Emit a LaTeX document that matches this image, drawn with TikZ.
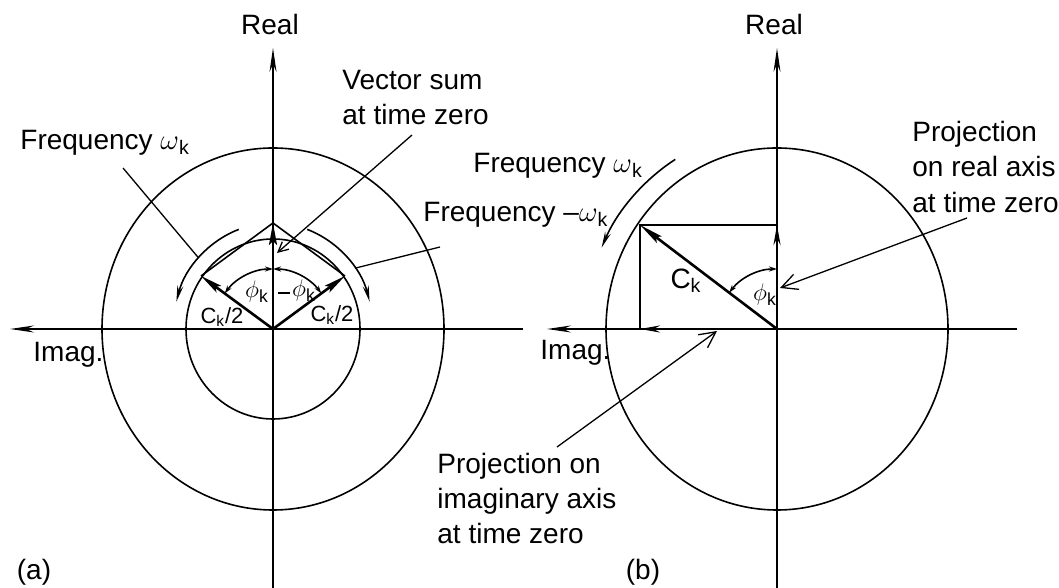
\documentclass[tikz,border=0pt]{standalone}
\usepackage{fontspec}
\setmainfont{Liberation Sans}
\usetikzlibrary{arrows.meta}
\begin{document}
\begin{tikzpicture}[x=0.5pt,y=0.5pt,
  axis/.style={line width=0.75pt},
  circ/.style={line width=0.8pt},
  vec/.style={line width=1.3pt},
  thinl/.style={line width=0.8pt},
  leader/.style={line width=0.65pt},
  lbl/.style={font=\fontsize{14}{17.5}\selectfont, inner sep=0pt},
  sml/.style={font=\fontsize{11}{13}\selectfont, inner sep=0pt},
  phil/.style={font=\fontsize{12.5}{14}\selectfont, inner sep=0pt},
  axtip/.style={-{Stealth[length=12pt,width=3.5pt]}},
  vtip/.style={-{Stealth[length=11pt,width=4pt,inset=2pt]}},
  ptip/.style={{Stealth[length=4pt,width=2.5pt]}-{Stealth[length=4pt,width=2.5pt]}},
  ftip/.style={-{Stealth[length=8pt,width=3pt]}},
  btip/.style={-{Straight Barb[length=8pt,width=8pt]}}
]
\useasboundingbox (0,0) rectangle (1059,588);
% ---------- centres and axes
\coordinate (O1) at (273,259);
\coordinate (O2) at (777,259);
\coordinate (a1t) at (273,540); \coordinate (a1b) at (273,0);
\coordinate (a1l) at (10,259);  \coordinate (a1r) at (523,259);
\coordinate (a2t) at (777,540); \coordinate (a2b) at (777,0);
\coordinate (a2l) at (547,259); \coordinate (a2r) at (1017,259);
\draw[axis,axtip] (a1b) -- (a1t);
\draw[axis,axtip] (a1r) -- (a1l);
\draw[axis,axtip] (a2b) -- (a2t);
\draw[axis,axtip] (a2r) -- (a2l);
% ---------- circles
\draw[circ] (O1) ellipse [x radius=171, y radius=181];
\draw[circ] (O1) ellipse [x radius=87, y radius=90];
\draw[circ] (O2) ellipse [x radius=171, y radius=181];
% ---------- (a) vectors
\coordinate (L) at (201,312);
\coordinate (R) at (345,312);
\coordinate (A) at (273,365);
\draw[thinl] (L) -- (A) -- (R);
\draw[vec,vtip] (O1) -- (L);
\draw[vec,vtip] (O1) -- (R);
\draw[vec,vtip] (O1) -- (A);
\draw[thinl,ptip] (O1) ++(143.6:60) arc[start angle=143.6, end angle=90, radius=60];
\draw[thinl,ptip] (O1) ++(36.4:60) arc[start angle=36.4, end angle=90, radius=60];
\coordinate (tk1) at (278,295); \coordinate (tk2) at (290,295);
\draw[thinl] (tk1) -- (tk2);
\node[phil] (phl) at (257,296) {$\phi$\textsubscript{k}};
\node[phil] (phr) at (304,297) {$\phi$\textsubscript{k}};
\node[sml] (ckl) at (222,271) {C\textsubscript{k}/2};
\node[sml] (ckr) at (332,273) {C\textsubscript{k}/2};
% rotation arcs
\draw[circ,ftip] (O1) ++(110:100 and 106) arc[start angle=110, end angle=165, x radius=100, y radius=106];
\draw[circ,ftip] (O1) ++(70:100 and 106) arc[start angle=70, end angle=15, x radius=100, y radius=106];
% leaders (a)
\coordinate (fl1) at (123,420);
\path (O1) ++(138:100 and 106) coordinate (fl2);
\draw[leader] (fl1) -- (fl2);
\path (O1) ++(35:100 and 106) coordinate (fr1);
\coordinate (fr2) at (440,341);
\draw[leader] (fr1) -- (fr2);
\coordinate (vs1) at (412,453); \coordinate (vs2) at (277,335);
\draw[leader,-{Straight Barb[length=5pt,width=5pt]}] (vs1) -- (vs2);
% labels (a)
\node[lbl] (real1) at (270,563) {Real};
\node[lbl,anchor=west,align=left] (vsum) at (342,490) {Vector sum\\at time zero};
\node[lbl,anchor=west] (freq1) at (20,445) {Frequency $\omega$\textsubscript{k}};
\node[lbl,anchor=west] (freq2) at (423,373) {Frequency –$\omega$\textsubscript{k}};
\node[lbl,anchor=west] (imag1) at (33,233) {Imag.};
\node[lbl] (pa) at (34,16) {(a)};
% ---------- (b)
\coordinate (P) at (640,363);
\coordinate (Q) at (777,363);
\coordinate (I) at (640,259);
\draw[vec] (I) -- (P) -- (Q);
\draw[vec,-{Stealth[length=12pt,width=4pt,inset=2pt]}] (O2) -- (P);
\draw[vec,-{Stealth[length=10pt,width=3.5pt]}] (O2) -- (Q);
\draw[vec,-{Stealth[length=10pt,width=3.5pt]}] (O2) -- (I);
\draw[thinl,ptip] (O2) ++(142.8:60) arc[start angle=142.8, end angle=90, radius=60];
\node[phil] (phb) at (765,293) {$\phi$\textsubscript{k}};
\node[lbl] (ckb) at (686,307) {C\textsubscript{k}};
\draw[circ,ftip] (O2) ++(122:192 and 200) arc[start angle=122, end angle=156, x radius=192, y radius=200];
\node[lbl] (real2) at (774,563) {Real};
\node[lbl,anchor=west] (freq3) at (473,422) {Frequency $\omega$\textsubscript{k}};
\node[lbl,anchor=west,align=left] (pra) at (912,421) {Projection\\on real axis\\at time zero};
\coordinate (pr1) at (967,370); \coordinate (pr2) at (780,300);
\draw[leader,btip] (pr1) -- (pr2);
\node[lbl,anchor=west] (imag2) at (540,235) {Imag.};
\node[lbl,anchor=west,align=left] (pia) at (437,90) {Projection on\\imaginary axis\\at time zero};
\coordinate (pi1) at (557,141); \coordinate (pi2) at (717,257);
\draw[leader,btip] (pi1) -- (pi2);
\node[lbl] (pb) at (643,16) {(b)};
\end{tikzpicture}
\end{document}
